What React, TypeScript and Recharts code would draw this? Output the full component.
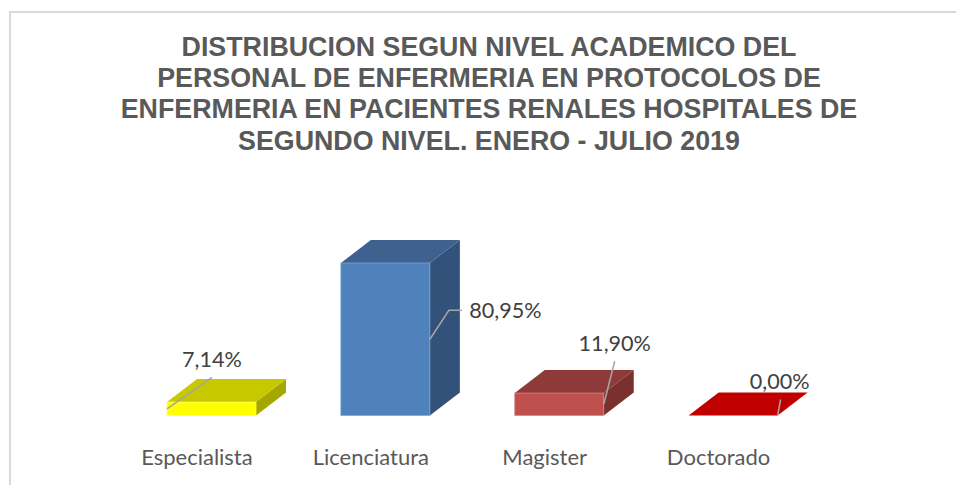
import React from "react";
import { BarChart, Bar, XAxis, YAxis, LabelList } from "recharts";

const categories = ["Especialista", "Licenciatura", "Magister", "Doctorado"];
const percentages = [7.14, 80.95, 11.9, 0];
const valueLabels = ["7,14%", "80,95%", "11,90%", "0,00%"];
const titleLines = [
  "DISTRIBUCION SEGUN NIVEL ACADEMICO DEL",
  "PERSONAL DE ENFERMERIA EN PROTOCOLOS DE",
  "ENFERMERIA EN PACIENTES RENALES HOSPITALES DE",
  "SEGUNDO NIVEL. ENERO - JULIO 2019",
];
const frontColors = ["#FFFF00", "#4F81BD", "#C0504D", "#C00000"];
const topColors = ["#C8C800", "#3E618F", "#8E3A38", "#C00000"];
const sideColors = ["#A6A600", "#325279", "#7A302E", "#C00000"];
const edgeColors = ["#FFFF66", "#7FA3D0", "#D98583", "#D84040"];

const rows = categories.map((name, i) => ({ name, value: percentages[i], label: valueLabels[i] }));

const DEPTH_X = 30;
const DEPTH_Y = 23;
const TEXT = "#595959";
const FONT = "Lato, 'Open Sans', sans-serif";

const Box = (props: any) => {
  const { x, y, width, height, index } = props;
  const r = x + width;
  const b = y + height;
  return (
    <g>
      {height > 0 && (
        <polygon
          points={`${r},${y} ${r + DEPTH_X},${y - DEPTH_Y} ${r + DEPTH_X},${b - DEPTH_Y} ${r},${b}`}
          fill={sideColors[index]}
        />
      )}
      <polygon
        points={`${x},${y} ${x + DEPTH_X},${y - DEPTH_Y} ${r + DEPTH_X},${y - DEPTH_Y} ${r},${y}`}
        fill={topColors[index]}
      />
      {height > 0 && (
        <rect x={x} y={y} width={width} height={height} fill={frontColors[index]} stroke={edgeColors[index]} strokeWidth={0.75} />
      )}
    </g>
  );
};

// Leader lines run from the bar to its data label; offsets are relative to the bar's front face.
const leaderStyles = [
  { side: 0, path: [[45, -31.5]], dx: 45, dy: -50 },
  { side: 1, path: [[19, -29], [32, -29]], dx: 75.5, dy: -29 },
  { side: 1, path: [[11, -43]], dx: 11, dy: -61 },
  { side: 1, path: [[3, -16]], dx: 2, dy: -35 },
];

const ValueLabel = (props: any) => {
  const { x, y, width, height, index, value } = props;
  const s = leaderStyles[index];
  const ox = x + (s.side ? width : 0);
  const oy = y + height / 2;
  const pts = [[ox, oy], ...s.path.map(([a, c]) => [ox + a, oy + c])];
  return (
    <g>
      <polyline points={pts.map((p) => p.join(",")).join(" ")} fill="none" stroke="#A6A6A6" strokeWidth={1.5} />
      <text x={ox + s.dx} y={oy + s.dy} textAnchor="middle" dominantBaseline="central" fontFamily={FONT} fontSize={21.6} fill="#404040">
        {value}
      </text>
    </g>
  );
};

const CategoryTick = (props: any) => {
  const { x, y, payload } = props;
  return (
    <text x={x - 15} y={y + 33} textAnchor="middle" dominantBaseline="central" fontFamily={FONT} fontSize={22} fill={TEXT}>
      {payload.value}
    </text>
  );
};

export default function App() {
  return (
    <div style={{ position: "absolute", left: 0, top: 0, width: 956, height: 485, overflow: "hidden", background: "#fff" }}>
      <div style={{ position: "absolute", left: 9, top: 11, width: 960, height: 500, borderLeft: "2px solid #D9D9D9", borderTop: "2px solid #D9D9D9" }} />
      <div
        style={{
          position: "absolute",
          left: 0,
          top: 32,
          width: 978,
          textAlign: "center",
          fontFamily: "'Liberation Sans', Arial, sans-serif",
          fontWeight: 700,
          fontSize: 26.8,
          lineHeight: "31.2px",
          color: TEXT,
        }}
      >
        {titleLines.map((t) => (
          <div key={t}>{t}</div>
        ))}
      </div>
      <div style={{ position: "absolute", left: 0, top: 0 }}>
        <BarChart width={956} height={485} data={rows} margin={{ top: 227.1, right: 135.5, bottom: 30, left: 125 }} barSize={89}>
          <XAxis dataKey="name" axisLine={false} tickLine={false} height={39.5} tick={<CategoryTick />} interval={0} />
          <YAxis hide domain={[0, 100]} />
          <Bar dataKey="value" isAnimationActive={false} shape={<Box />}>
            <LabelList dataKey="label" content={<ValueLabel />} />
          </Bar>
        </BarChart>
      </div>
    </div>
  );
}
